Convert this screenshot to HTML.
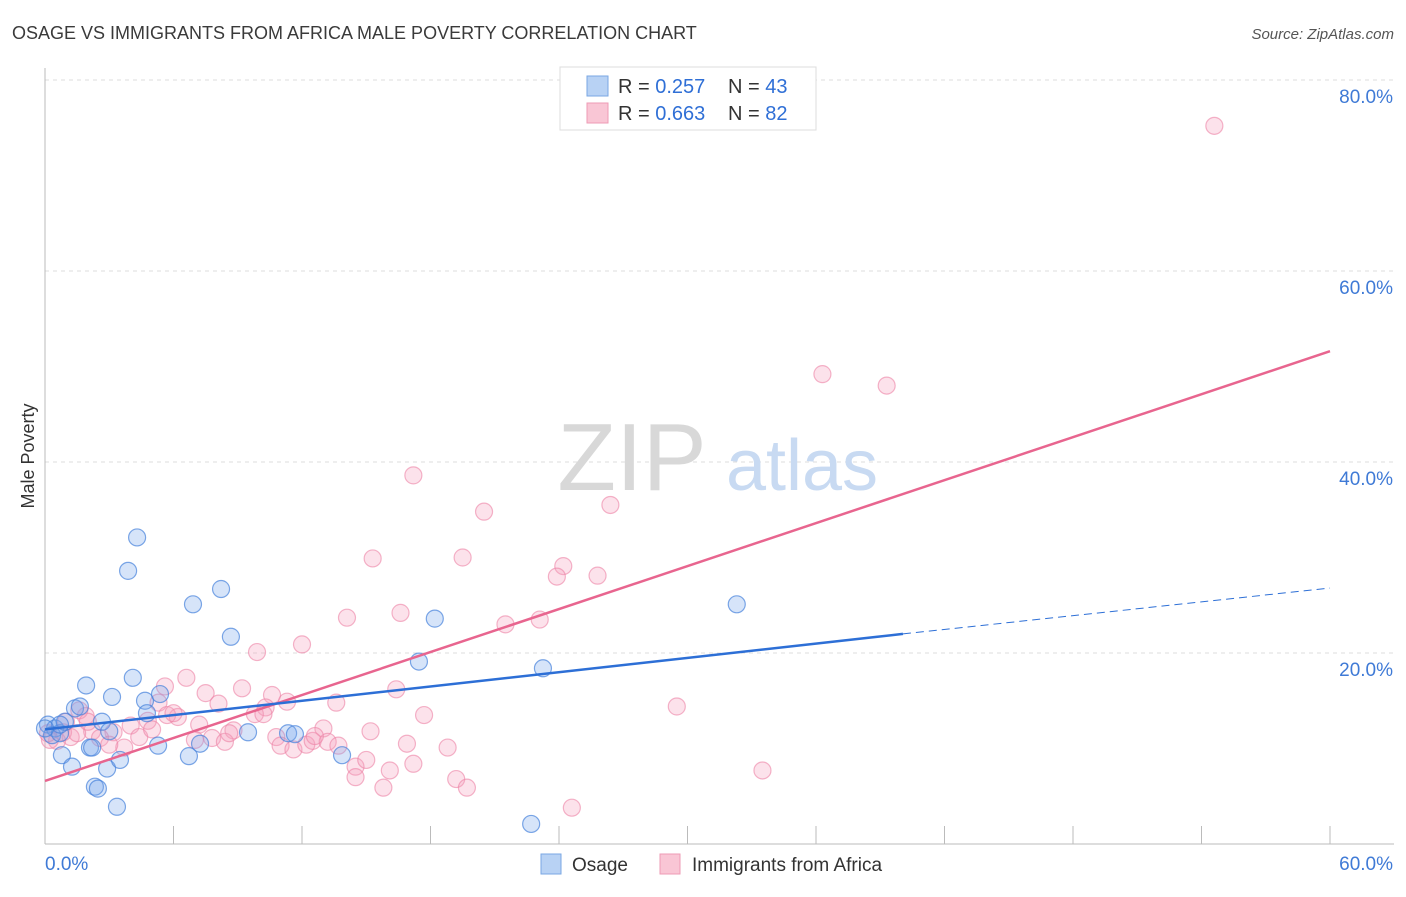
<!DOCTYPE html>
<html><head><meta charset="utf-8"><style>
body{margin:0;background:#fff;font-family:"Liberation Sans",sans-serif;}
svg text{font-family:"Liberation Sans",sans-serif;}
</style></head><body>
<svg id="chart" width="1406" height="892" viewBox="0 0 1406 892" xmlns="http://www.w3.org/2000/svg">
<text x="12" y="39" font-size="18" fill="#3a3a3a">OSAGE VS IMMIGRANTS FROM AFRICA MALE POVERTY CORRELATION CHART</text>
<text x="1394" y="39" font-size="15" fill="#555" font-style="italic" text-anchor="end">Source: ZipAtlas.com</text>
<g id="grid"></g>
<g>
<text x="632" y="490" font-size="96" fill="#d8d8d8" font-family="Liberation Serif, serif" text-anchor="middle">ZIP</text>
<text x="802" y="490" font-size="72" fill="#c8daf2" text-anchor="middle">atlas</text>
</g>
<text transform="translate(34,456) rotate(-90)" font-size="18" fill="#333" text-anchor="middle">Male Poverty</text>
<g id="marks"></g>
<g>
<rect x="560" y="67" width="256" height="63" fill="#fff" stroke="#ddd"/>
<rect x="587" y="76" width="21" height="20" fill="#b8d2f4" stroke="#7aa7e3"/>
<rect x="587" y="103" width="21" height="20" fill="#f9c6d5" stroke="#ee9bb5"/>
<text x="618" y="93" font-size="20" fill="#333">R = <tspan fill="#2f6fd6">0.257</tspan><tspan x="728">N = </tspan><tspan fill="#2f6fd6">43</tspan></text>
<text x="618" y="120" font-size="20" fill="#333">R = <tspan fill="#2f6fd6">0.663</tspan><tspan x="728">N = </tspan><tspan fill="#2f6fd6">82</tspan></text>
</g>
<g>
<rect x="541" y="854" width="20" height="20" fill="#b8d2f4" stroke="#7aa7e3"/>
<text x="572" y="871" font-size="19" fill="#333">Osage</text>
<rect x="660" y="854" width="20" height="20" fill="#f9c6d5" stroke="#ee9bb5"/>
<text x="692" y="871" font-size="19" fill="#333">Immigrants from Africa</text>
</g>
</svg>
<script>
const yTicks=[20,40,60,80];
const yTickLabels=["20.0%","40.0%","60.0%","80.0%"];
const xTicks=[0,6,12,18,24,30,36,42,48,54,60];
const osageX=[0.14,0.47,0.33,0.7,0.93,0.79,1.26,1.4,1.63,1.92,2.1,2.2,2.33,2.47,2.66,2.9,3.13,3.36,3.5,3.88,4.1,4.3,4.67,4.76,5.28,5.37,6.72,6.91,7.24,8.22,8.68,9.48,11.35,11.67,13.87,17.46,18.2,22.7,23.25,32.3,0.7,3.0,0.0];
const osageY=[12.5,12.1,11.4,11.6,12.8,9.3,8.1,14.2,14.4,16.6,10.1,10.1,6.0,5.8,12.8,7.9,15.4,3.9,8.8,28.6,17.4,32.1,15.0,13.7,10.3,15.7,9.2,25.1,10.5,26.7,21.7,11.7,11.6,11.5,9.3,19.1,23.6,2.1,18.4,25.1,12.5,11.8,12.1];
const africaX=[54.6,36.3,39.3,17.2,20.5,26.4,15.3,19.5,24.2,23.9,25.8,14.1,16.6,21.5,23.1,12.0,9.9,6.6,5.6,9.2,7.5,10.6,16.4,5.3,8.1,11.3,10.3,13.6,29.5,17.7,6.2,9.8,4.8,7.2,8.8,13.0,15.2,4.0,3.2,2.2,1.9,1.6,1.2,0.56,0.23,0.84,1.5,2.57,3.7,4.4,7.0,7.8,8.4,10.8,11.0,11.6,12.2,12.5,13.2,13.7,12.6,14.5,15.0,14.5,15.8,16.1,16.9,17.2,18.8,19.2,19.7,24.6,33.5,3.0,5.0,5.7,8.6,0.14,0.98,2.0,6.0,10.2];
const africaY=[75.2,49.2,48.0,38.6,34.8,35.5,29.9,30.0,29.1,28.0,28.1,23.7,24.2,23.0,23.5,20.9,20.1,17.4,16.5,16.3,15.8,15.6,16.2,14.8,14.7,14.9,14.3,14.8,14.4,13.5,13.3,13.6,12.9,12.5,11.9,12.1,11.8,12.4,11.7,11.8,13.4,14.0,11.2,10.8,10.9,11.7,11.6,11.1,10.1,11.2,10.9,11.1,10.7,11.2,10.3,9.9,10.4,10.8,10.7,10.3,11.3,8.1,8.8,7.0,5.9,7.7,10.5,8.4,10.1,6.8,5.9,3.8,7.7,10.4,12.0,13.5,11.6,11.6,12.8,12.8,13.7,13.6];
const osageTrend=[12.0,22.0,26.8]; // at x=0, 40.06, 60
const osageTrendX=[0,40.06,60];
const africaTrend=[6.6,51.6];
const africaTrendX=[0,60];
const NS="http://www.w3.org/2000/svg";
const X=v=>45+v*1285/60;
const Y=v=>844-v*9.55;
function mk(tag,attrs,parent){const e=document.createElementNS(NS,tag);for(const k in attrs)e.setAttribute(k,attrs[k]);parent.appendChild(e);return e;}
const grid=document.getElementById('grid');
const marks=document.getElementById('marks');
yTicks.forEach((t,i)=>{
  const l=mk('line',{x1:45,x2:1394,y1:Y(t),y2:Y(t),stroke:'#ddd','stroke-dasharray':'4,4'},grid);
  
  
  const tx=mk('text',{x:1393,y:Y(t)+23,'font-size':19,fill:'#3f7ad6','text-anchor':'end'},grid);
  tx.textContent=yTickLabels[i];
  
  
});
const ax=mk('line',{x1:45,x2:45,y1:68,y2:844,stroke:'#bbb'},grid);


const bx=mk('line',{x1:45,x2:1394,y1:844,y2:844,stroke:'#bbb'},grid);


xTicks.forEach(t=>{
  const l=mk('line',{x1:X(t),x2:X(t),y1:826,y2:844,stroke:'#bbb'},grid);
  
  
});
const xl0=mk('text',{x:45,y:870,'font-size':19,fill:'#3f7ad6'},grid);xl0.textContent='0.0%';


const xl1=mk('text',{x:1393,y:870,'font-size':19,fill:'#3f7ad6','text-anchor':'end'},grid);xl1.textContent='60.0%';


africaX.forEach((x,i)=>{
  const c=mk('circle',{cx:X(x),cy:Y(africaY[i]),r:8.5,fill:'rgba(244,160,188,0.3)',stroke:'rgba(236,130,165,0.6)','stroke-width':1.2},marks);
  
  
});
osageX.forEach((x,i)=>{
  const c=mk('circle',{cx:X(x),cy:Y(osageY[i]),r:8.5,fill:'rgba(120,165,235,0.3)',stroke:'rgba(70,130,220,0.7)','stroke-width':1.2},marks);
  
  
});
const pt=mk('line',{x1:X(africaTrendX[0]),y1:Y(africaTrend[0]),x2:X(africaTrendX[1]),y2:Y(africaTrend[1]),stroke:'#e8658f','stroke-width':2.5},marks);


const bt=mk('line',{x1:X(osageTrendX[0]),y1:Y(osageTrend[0]),x2:X(osageTrendX[1]),y2:Y(osageTrend[1]),stroke:'#2d6fd6','stroke-width':2.5},marks);


const bd=mk('line',{x1:X(osageTrendX[1]),y1:Y(osageTrend[1]),x2:X(osageTrendX[2]),y2:Y(osageTrend[2]),stroke:'#2d6fd6','stroke-width':1,'stroke-dasharray':'8,5'},marks);


</script>
</body></html>
